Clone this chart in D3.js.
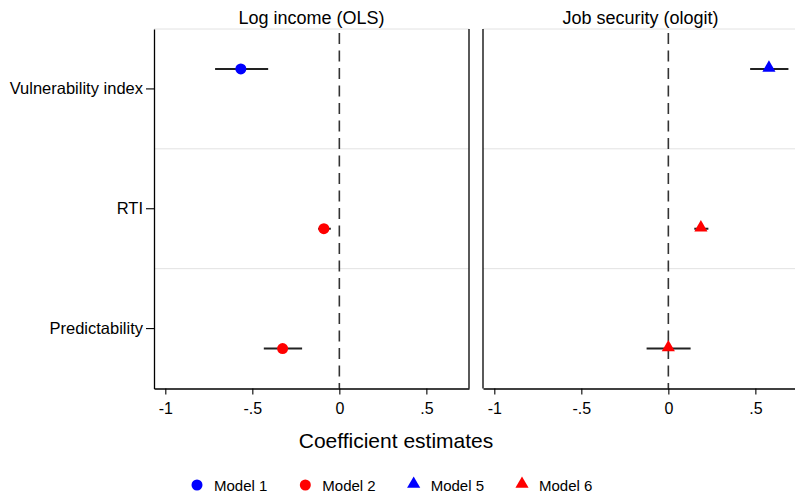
<!DOCTYPE html>
<html>
<head>
<meta charset="utf-8">
<script src="https://cdn.jsdelivr.net/npm/d3@7"></script>
<style>
  html, body { margin: 0; padding: 0; background: #fff; }
  svg { display: block; font-family: "Liberation Sans", Arial, Helvetica, sans-serif; }
</style>
</head>
<body>
<svg id="chart" width="795" height="493"></svg>
<script>
// Coefficient plot: two outcome panels, three predictors, 95% CIs.
const panels = ["Log income (OLS)", "Job security (ologit)"];
const terms = ["Vulnerability index", "RTI", "Predictability"];
const xTicks = [-1, -0.5, 0, 0.5];
const xTickLabels = ["-1", "-.5", "0", ".5"];
const models = ["Model 1", "Model 2", "Model 5", "Model 6"];

// Estimates per model: coefficient with lower / upper confidence bounds
const model1 = [
  { term: "Vulnerability index", b: -0.566, lo: -0.714, hi: -0.409 }
];
const model2 = [
  { term: "RTI", b: -0.089, lo: -0.122, hi: -0.049 },
  { term: "Predictability", b: -0.326, lo: -0.434, hi: -0.214 }
];
const model5 = [
  { term: "Vulnerability index", b: 0.578, lo: 0.470, hi: 0.690 }
];
const model6 = [
  { term: "RTI", b: 0.187, lo: 0.149, hi: 0.230 },
  { term: "Predictability", b: 0.0, lo: -0.125, hi: 0.128 }
];

const series = [
  { name: "Model 1", panel: 0, slot: 0, shape: "circle", color: "#0000ff", data: model1 },
  { name: "Model 2", panel: 0, slot: 1, shape: "circle", color: "#ff0000", data: model2 },
  { name: "Model 5", panel: 1, slot: 0, shape: "triangle", color: "#0000ff", data: model5 },
  { name: "Model 6", panel: 1, slot: 1, shape: "triangle", color: "#ff0000", data: model6 }
];

const svg = d3.select("#chart");
const plotTop = 29, plotBottom = 388.5;
const panelBoxes = [
  { x0: 154, x1: 469 },
  { x0: 483, x1: 798 }
];
const domain = [-1.065, 0.745];

const y = d3.scaleBand().domain(terms).range([plotTop, plotBottom]).padding(0);
const slotOffset = d3.scalePoint().domain([0, 1]).range([-y.bandwidth() / 6, y.bandwidth() / 6]);

const circleSym = d3.symbol().type(d3.symbolCircle).size(95);
const triSym = d3.symbol().type(d3.symbolTriangle).size(75);

panels.forEach((title, pi) => {
  const box = panelBoxes[pi];
  const x = d3.scaleLinear().domain(domain).range([box.x0, box.x1]);
  const g = svg.append("g");

  // band separators and top rule
  const seps = [plotTop].concat(terms.slice(1).map(t => y(t)));
  g.selectAll("line.sep").data(seps).join("line")
    .attr("x1", box.x0).attr("x2", box.x1)
    .attr("y1", d => d).attr("y2", d => d)
    .attr("stroke", "#e2e2e2").attr("stroke-width", 1);

  // zero reference line
  g.append("line")
    .attr("x1", x(0)).attr("x2", x(0))
    .attr("y1", plotTop + 4).attr("y2", plotBottom)
    .attr("stroke", "#333").attr("stroke-width", 1.6)
    .attr("stroke-dasharray", "11,6.5");

  // panel title
  g.append("text")
    .attr("x", (box.x0 + box.x1) / 2).attr("y", 24)
    .attr("text-anchor", "middle")
    .attr("font-size", 18).attr("fill", "#000")
    .text(title);

  // bottom axis
  const xAxis = d3.axisBottom(x).tickValues(xTicks)
    .tickFormat((d, i) => xTickLabels[i]).tickSize(6).tickSizeOuter(0);
  const ax = g.append("g").attr("transform", `translate(0,${plotBottom})`).call(xAxis);
  ax.select(".domain").attr("stroke", "#000").attr("stroke-width", 1.3);
  ax.selectAll(".tick line").attr("stroke", "#000").attr("stroke-width", 1.1);
  ax.selectAll(".tick text").attr("font-size", 16).attr("fill", "#000")
    .attr("font-family", "Liberation Sans, Arial, sans-serif").attr("dy", "1.05em");

  // left axis
  if (pi === 0) {
    const yAxis = d3.axisLeft(y).tickSize(8).tickSizeOuter(0).tickPadding(3);
    const ay = g.append("g").attr("transform", `translate(${box.x0},0)`).call(yAxis);
    ay.select(".domain").attr("stroke", "#000").attr("stroke-width", 1.3);
    ay.selectAll(".tick line").attr("stroke", "#000").attr("stroke-width", 1.1);
    ay.selectAll(".tick text").attr("font-size", 16.5).attr("fill", "#000")
      .attr("font-family", "Liberation Sans, Arial, sans-serif");
    // right frame edge
    g.append("line").attr("x1", box.x1).attr("x2", box.x1)
      .attr("y1", plotTop).attr("y2", plotBottom)
      .attr("stroke", "#000").attr("stroke-width", 1.3);
  } else {
    g.append("line").attr("x1", box.x0).attr("x2", box.x0)
      .attr("y1", plotTop).attr("y2", plotBottom)
      .attr("stroke", "#000").attr("stroke-width", 1.3);
  }

  // estimates
  series.filter(s => s.panel === pi).forEach(s => {
    const yy = d => y(d.term) + y.bandwidth() / 2 + slotOffset(s.slot);
    g.selectAll(null).data(s.data).join("line")
      .attr("x1", d => x(d.lo)).attr("x2", d => x(d.hi))
      .attr("y1", yy).attr("y2", yy)
      .attr("stroke", "#222").attr("stroke-width", 2);
    g.selectAll(null).data(s.data).join("path")
      .attr("d", s.shape === "circle" ? circleSym : triSym)
      .attr("transform", d => `translate(${x(d.b)},${yy(d) - (s.shape === "triangle" ? 1 : 0)})`)
      .attr("fill", s.color);
  });
});

// x-axis title
svg.append("text")
  .attr("x", 396).attr("y", 448)
  .attr("text-anchor", "middle")
  .attr("font-size", 21).attr("fill", "#000")
  .text("Coefficient estimates");

// legend
const legendX = d3.scalePoint().domain(models).range([197, 522]);
const lg = svg.append("g");
series.forEach(s => {
  const cx = legendX(s.name);
  lg.append("path")
    .attr("d", s.shape === "circle" ? circleSym() : triSym())
    .attr("transform", `translate(${cx},${s.shape === "triangle" ? 484 : 485})`)
    .attr("fill", s.color);
  lg.append("text")
    .attr("x", cx + 17).attr("y", 490.5)
    .attr("font-size", 15).attr("fill", "#000")
    .text(s.name);
});
</script>
</body>
</html>
